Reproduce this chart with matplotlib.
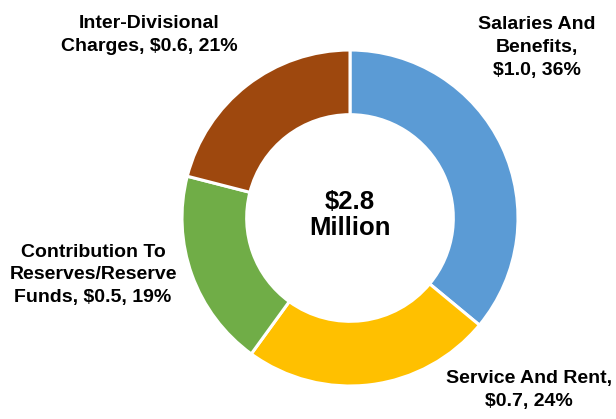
import matplotlib.pyplot as plt

# spending breakdown ($ millions)
categories = ["Salaries And\nBenefits", "Service And Rent", "Contribution To\nReserves/Reserve\nFunds", "Inter-Divisional\nCharges"]
amounts = [1.0, 0.7, 0.5, 0.6]
percents = [36, 24, 19, 21]
total_label = "$2.8\nMillion"

colors = ["#5B9BD5", "#FFC000", "#70AD47", "#9E480E"]
# label anchors in figure fraction (x, y), centre of each text block
label_pos = [(0.872, 0.887), (0.859, 0.069), (0.151, 0.344), (0.242, 0.916)]

plt.rcParams['font.family'] = ['Liberation Sans', 'DejaVu Sans']

fig = plt.figure(figsize=(6.16, 4.19), dpi=100)
ax = fig.add_axes([0, 0, 1, 1])

wedges, _ = ax.pie(percents, colors=colors, startangle=90, counterclock=False,
                   radius=1.0, wedgeprops=dict(width=0.385, edgecolor="white", linewidth=2.2))

# scale: 1 data unit = 168 px, pie centre at (350, 218) px from top-left
ax.set_xlim(-350 / 168, (616 - 350) / 168)
ax.set_ylim(-(419 - 218) / 168, 218 / 168)
ax.set_aspect('equal')
ax.axis('off')

ax.text(0, 0.02, total_label, ha='center', va='center', fontsize=18.5,
        fontweight='bold', linespacing=1.1)

for cat, amt, pct, (x, y) in zip(categories, amounts, percents, label_pos):
    if cat.startswith("Salaries"):
        txt = f"{cat},\n${amt:.1f}, {pct}%"
    elif cat.startswith("Service"):
        txt = f"{cat},\n${amt:.1f}, {pct}%"
    else:
        txt = f"{cat}, ${amt:.1f}, {pct}%"
    fig.text(x, y, txt, ha='center', va='center', fontsize=14,
             fontweight='bold', linespacing=1.45)

fig.savefig("out.png", dpi=100)
